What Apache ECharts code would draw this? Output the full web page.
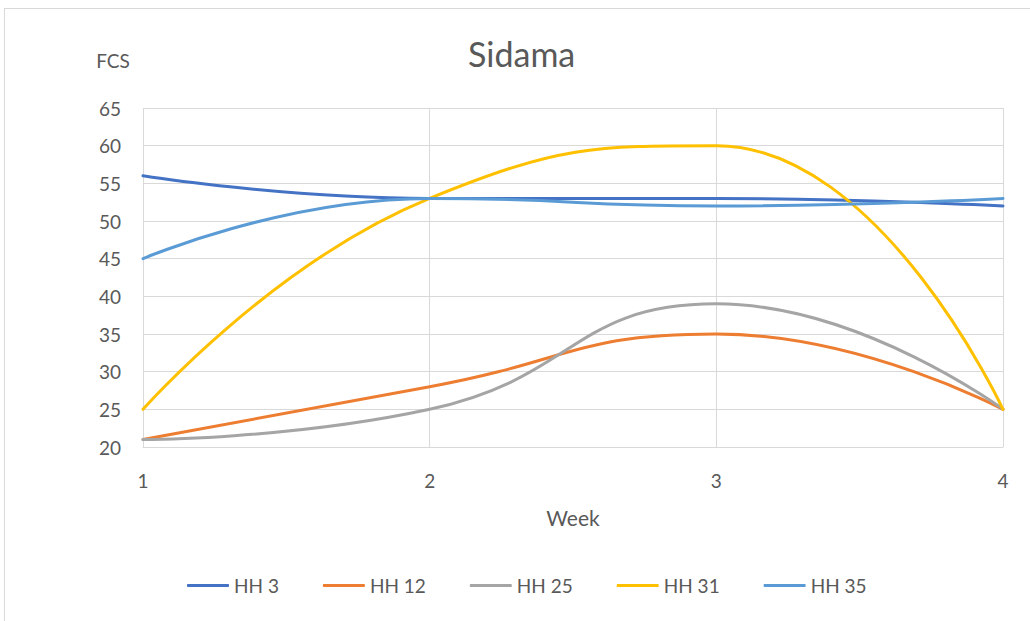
<!DOCTYPE html>
<html>
<head>
<meta charset="utf-8">
<script src="https://cdn.jsdelivr.net/npm/echarts@6/dist/echarts.min.js"></script>
<style>
  html, body { margin: 0; padding: 0; background: #fff; }
  #frame { position: absolute; left: 4px; top: 8px; width: 1040px; height: 640px; border: 1px solid #d9d9d9; box-sizing: border-box; }
  #chart { position: absolute; left: 0; top: 0; width: 1030px; height: 621px; }
</style>
</head>
<body>
<div id="frame"></div>
<div id="chart"></div>
<script>
var weeks = [1, 2, 3, 4];
var seriesNames = ['HH 3', 'HH 12', 'HH 25', 'HH 31', 'HH 35'];
var hh3 = [56, 53, 53, 52];
var hh12 = [21, 28, 35, 25];
var hh25 = [21, 25, 39, 25];
var hh31 = [25, 53, 60, 25];
var hh35 = [45, 53, 52, 53];
var colors = ['#4472C4', '#ED7D31', '#A5A5A5', '#FFC000', '#5B9BD5'];

(function() {
  var text = '#595959';
  var rule = '#d9d9d9';
  var font = 'Lato, "Liberation Sans", sans-serif';
  var values = [hh3, hh12, hh25, hh31, hh35];

  function pairs(arr) {
    return arr.map(function(v, i) { return [weeks[i], v]; });
  }

  var chart = echarts.init(document.getElementById('chart'), null, { renderer: 'svg' });
  chart.setOption({
    animation: false,
    textStyle: { fontFamily: font },
    title: {
      text: 'Sidama',
      left: 463,
      top: 31,
      textStyle: { color: text, fontSize: 34, fontWeight: 'normal', fontFamily: font }
    },
    legend: {
      bottom: 21,
      left: 182,
      itemWidth: 42,
      itemHeight: 3,
      itemGap: 44,
      icon: 'roundRect',
      textStyle: { color: text, fontSize: 19, fontFamily: font },
      data: seriesNames
    },
    grid: { left: 143, top: 108, width: 860, height: 339 },
    xAxis: {
      type: 'value',
      min: 1,
      max: 4,
      interval: 1,
      name: 'Week',
      nameLocation: 'middle',
      nameGap: 60,
      nameTextStyle: { color: text, fontSize: 21 },
      axisLine: { show: true, lineStyle: { color: rule } },
      axisTick: { show: false },
      splitLine: { show: true, lineStyle: { color: rule } },
      axisLabel: { color: text, fontSize: 19, margin: 24 }
    },
    yAxis: {
      type: 'value',
      min: 20,
      max: 65,
      interval: 5,
      name: 'FCS',
      nameLocation: 'end',
      nameGap: 38,
      nameTextStyle: { color: text, fontSize: 19, align: 'center', padding: [0, 60, 0, 0] },
      axisLine: { show: false },
      axisTick: { show: false },
      splitLine: { lineStyle: { color: rule } },
      axisLabel: { color: text, fontSize: 19, margin: 22 }
    },
    series: seriesNames.map(function(name, i) {
      return {
        name: name,
        type: 'line',
        smooth: 0.5,
        showSymbol: false,
        symbol: 'none',
        data: pairs(values[i]),
        itemStyle: { color: colors[i] },
        lineStyle: { color: colors[i], width: 3, cap: 'round' }
      };
    })
  });
})();
</script>
</body>
</html>
